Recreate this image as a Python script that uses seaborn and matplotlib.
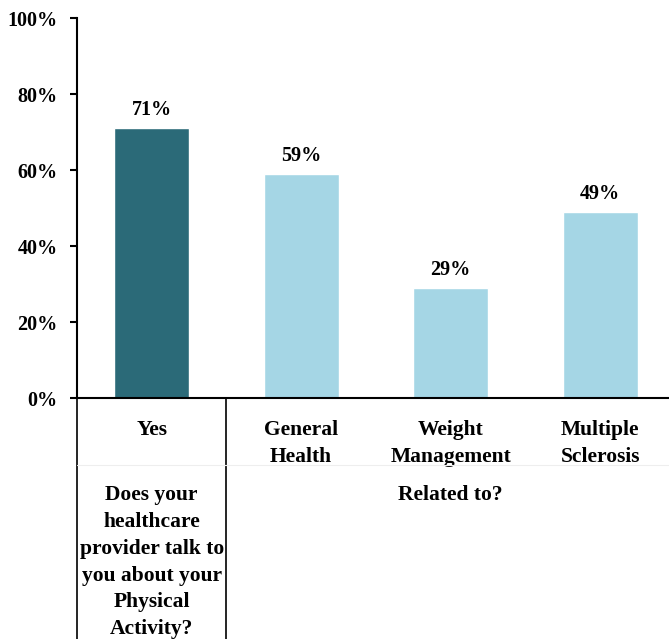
import matplotlib
matplotlib.use("Agg")
import matplotlib.pyplot as plt
from matplotlib import font_manager as fm
import seaborn as sns
import pandas as pd

categories = ["Yes", "General\nHealth", "Weight\nManagement", "Multiple\nSclerosis"]
values = [71, 59, 29, 49]
value_labels = ["71%", "59%", "29%", "49%"]
colors = ["#2B6A78", "#A5D6E5", "#A5D6E5", "#A5D6E5"]
yticks = [0, 20, 40, 60, 80, 100]
ytick_labels = ["0%", "20%", "40%", "60%", "80%", "100%"]
question_text = "Does your\nhealthcare\nprovider talk to\nyou about your\nPhysical\nActivity?"
group_text = "Related to?"

sns.set_theme(style="white")

# pick a bold serif font that is installed
bold_fonts = {f.name for f in fm.fontManager.ttflist if (f.weight if isinstance(f.weight, int) else 700) >= 600}
font_choice = "DejaVu Serif"
for cand in ["EB Garamond", "Liberation Serif", "Tinos", "FreeSerif", "Crimson Text", "DejaVu Serif"]:
    if cand in bold_fonts:
        font_choice = cand
        break
plt.rcParams["font.family"] = [font_choice, "DejaVu Serif"]
plt.rcParams["font.weight"] = "bold"
plt.rcParams["text.color"] = "black"
plt.rcParams["xtick.color"] = "black"
plt.rcParams["ytick.color"] = "black"

df = pd.DataFrame({"cat": categories, "val": values})

fig = plt.figure(figsize=(6.69, 6.39), dpi=100)
W, H = 669, 639
ax = fig.add_axes([77 / W, (H - 398) / H, (669 - 77) / W, (398 - 18) / H])

sns.barplot(data=df, x="cat", y="val", hue="cat", palette=colors, legend=False,
            width=0.5, ax=ax, saturation=1)

ax.set_xlim(-0.5, 3.46)
ax.set_ylim(0, 100)
ax.set_yticks(yticks)
ax.set_yticklabels(ytick_labels, fontsize=14.5, fontweight="bold", color="black")
ax.tick_params(axis="y", length=5, width=1.5, colors="black", pad=9, direction="out", left=True)
ax.tick_params(axis="x", length=0, pad=16, labelsize=15.5, colors="black")
for lbl in ax.get_xticklabels():
    lbl.set_fontweight("bold")
    lbl.set_linespacing(1.45)
ax.set_xlabel("")
ax.set_ylabel("")

for s in ["top", "right"]:
    ax.spines[s].set_visible(False)
for s in ["left", "bottom"]:
    ax.spines[s].set_linewidth(1.5)
    ax.spines[s].set_color("black")

for i, (v, t) in enumerate(zip(values, value_labels)):
    ax.text(i, v + 2.1, t, ha="center", va="bottom", fontsize=14.5, fontweight="bold", color="black")

# divider lines below the axis
for xpos in [-0.5, 0.5]:
    ax.plot([xpos, xpos], [0, -64], color="black", lw=1.2, clip_on=False)
ax.plot([-0.5, 3.46], [-17.6, -17.6], color="#eeeeee", lw=0.8, clip_on=False)

ax.text(0, -23.0, question_text, ha="center", va="top", fontsize=15.5, fontweight="bold",
        linespacing=1.45, color="black")
ax.text(2, -23.0, group_text, ha="center", va="top", fontsize=15.5, fontweight="bold",
        color="black")

fig.savefig("out.png", dpi=100)
